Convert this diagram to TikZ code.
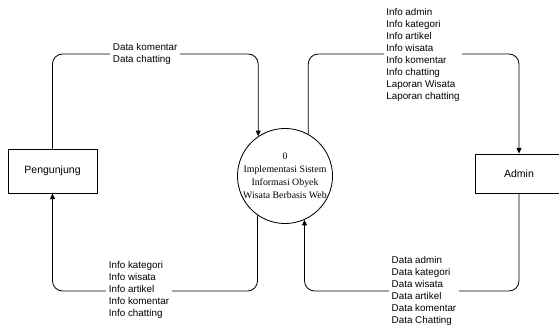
\documentclass[tikz,border=0pt]{standalone}
\usepackage{xcolor}
\usepackage{fontspec}
\usepackage{tikz}
\usetikzlibrary{arrows.meta}
\newfontfamily\fontlabel{Liberation Sans}
\newfontfamily\fontproses{Liberation Serif}
\begin{document}
\begin{tikzpicture}[
  entitas/.style={draw, rectangle, line width=0.6pt, font=\fontlabel\fontsize{7.5}{9}\selectfont},
  proses/.style={draw, circle, line width=0.6pt, minimum size=2.35cm, inner sep=0pt, align=center, font=\fontproses\fontsize{7}{9.2}\selectfont},
  aliran/.style={draw, line width=0.6pt, rounded corners=0.25cm},
  panah/.style={-{Triangle[length=4pt,width=3.5pt]}},
  label/.style={fill=white, align=left, inner xsep=2pt, inner ysep=0pt, font=\fontlabel\fontsize{7}{8.6}\selectfont}]%
\useasboundingbox (0,0) rectangle (13.975,8.225);%
\node[entitas, minimum width=2.225cm, minimum height=1.1cm] (pengunjung) at (1.3125, 3.95) {Pengunjung};%
\node[entitas, minimum width=2.2cm, minimum height=0.975cm] (admin) at (12.975, 3.8875) {Admin};%
\node[proses] (sistem) at (7.125, 3.825) {0\\Implementasi Sistem\\Informasi Obyek\\Wisata Berbasis Web};%
\coordinate (atas) at (0, 6.875);%
\coordinate (bawah) at (0, 0.95);%
% aliran data
\draw[aliran, panah] (pengunjung.north) |- (atas -| sistem.124) -- (sistem.124);%
\draw[aliran, panah] (sistem.61) |- (atas -| admin.north) -- (admin.north);%
\draw[aliran, panah] (admin.south) |- (bawah -| sistem.294) -- (sistem.294);%
\draw[aliran, panah] (sistem.235) |- (bawah -| pengunjung.south) -- (pengunjung.south);%
% label aliran
\node[label] (lbl1) at (3.63, 6.875) {Data komentar\\Data chatting};%
\node[label] (lbl2) at (10.575, 6.85) {Info admin\\Info kategori\\Info artikel\\Info wisata\\Info komentar\\Info chatting\\Laporan Wisata\\Laporan chatting};%
\node[label] (lbl3) at (10.6, 0.95) {Data admin\\Data kategori\\Data wisata\\Data artikel\\Data komentar\\Data Chatting};%
\node[label] (lbl4) at (3.475, 0.97) {Info kategori\\Info wisata\\Info artikel\\Info komentar\\Info chatting};%
\end{tikzpicture}
\end{document}
